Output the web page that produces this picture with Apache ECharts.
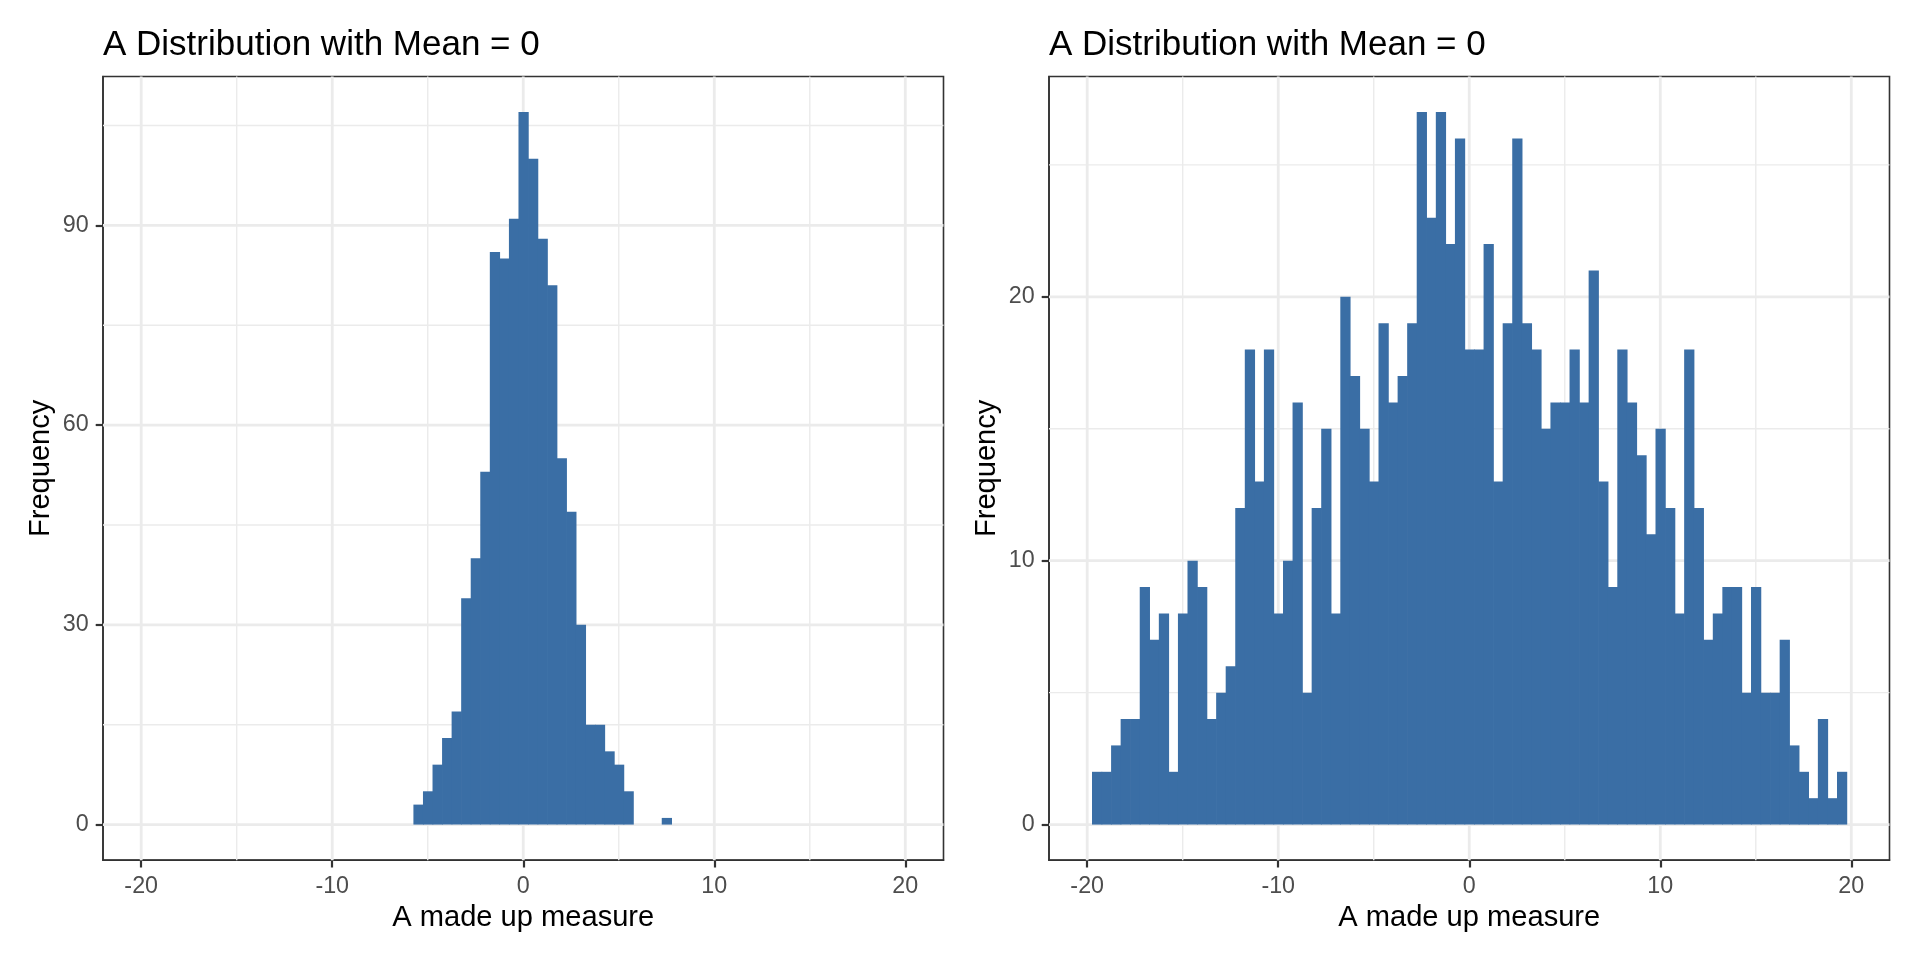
<!DOCTYPE html>
<html>
<head>
<meta charset="utf-8">
<script src="https://cdn.jsdelivr.net/npm/echarts@6/dist/echarts.min.js"></script>
<style>
html,body{margin:0;padding:0;background:#ffffff;}
#chart{width:1920px;height:960px;}
</style>
</head>
<body>
<div id="chart"></div>
<script>
// ---- text ----
const titleText = 'A Distribution with Mean = 0';
const xAxisTitle = 'A made up measure';
const yAxisTitle = 'Frequency';

// ---- ticks ----
const xTicks = [-20, -10, 0, 10, 20];
const xMinorTicks = [-15, -5, 5, 15];
const leftYTicks = [0, 30, 60, 90];
const leftYMinorTicks = [15, 45, 75, 105];
const rightYTicks = [0, 10, 20];
const rightYMinorTicks = [5, 15, 25];

// ---- histogram data (bin centres, counts) ----
const binWidth = 0.5;
const leftBins = [-5.5, -5, -4.5, -4, -3.5, -3, -2.5, -2, -1.5, -1, -0.5, 0, 0.5, 1, 1.5, 2, 2.5, 3, 3.5, 4, 4.5, 5, 5.5, 6, 6.5, 7, 7.5];
const leftCounts = [3, 5, 9, 13, 17, 34, 40, 53, 86, 85, 91, 107, 100, 88, 81, 55, 47, 30, 15, 15, 11, 9, 5, 0, 0, 0, 1];

const rightBins = [-19.5, -19, -18.5, -18, -17.5, -17, -16.5, -16, -15.5, -15, -14.5, -14, -13.5, -13, -12.5, -12, -11.5, -11, -10.5, -10,
  -9.5, -9, -8.5, -8, -7.5, -7, -6.5, -6, -5.5, -5, -4.5, -4, -3.5, -3, -2.5, -2, -1.5, -1, -0.5,
  0, 0.5, 1, 1.5, 2, 2.5, 3, 3.5, 4, 4.5, 5, 5.5, 6, 6.5, 7, 7.5, 8, 8.5, 9, 9.5,
  10, 10.5, 11, 11.5, 12, 12.5, 13, 13.5, 14, 14.5, 15, 15.5, 16, 16.5, 17, 17.5, 18, 18.5, 19, 19.5];
const rightCounts = [2, 2, 3, 4, 4, 9, 7, 8, 2, 8, 10, 9, 4, 5, 6, 12, 18, 13, 18, 8,
  10, 16, 5, 12, 15, 8, 20, 17, 15, 13, 19, 16, 17, 19, 27, 23, 27, 22, 26,
  18, 18, 22, 13, 19, 26, 19, 18, 15, 16, 16, 18, 16, 21, 13, 9, 18, 16, 14, 11,
  15, 12, 8, 18, 12, 7, 8, 9, 9, 5, 9, 5, 5, 7, 3, 2, 1, 4, 1, 2];

// ---- styles ----
const FONT = 'Liberation Sans, Arial, Helvetica, sans-serif';
const barColor = '#3A6EA5';
const gridColor = '#EBEBEB';
const majorW = 2.8, minorW = 1.4;
const darkGrey = '#333333';
const borderW = 1.6, tickW = 2.2;

const xRange = [-22, 22];
const leftYRange = [-5.35, 112.35];
const rightYRange = [-1.35, 28.35];

const panels = [
  {left: 103, bins: leftBins, counts: leftCounts, yRange: leftYRange, yTicks: leftYTicks, yMinor: leftYMinorTicks},
  {left: 1049, bins: rightBins, counts: rightCounts, yRange: rightYRange, yTicks: rightYTicks, yMinor: rightYMinorTicks}
];
const panelTop = 76.5, panelW = 840.5, panelH = 783.7;

function barRender(params, api) {
  const x = api.value(0), y = api.value(1);
  if (!y) return null;
  const p0 = api.coord([x - binWidth / 2, y]);
  const p1 = api.coord([x + binWidth / 2, 0]);
  // slight overlap to the right so adjacent bins show no seam
  return {
    type: 'rect',
    shape: {x: p0[0], y: p0[1], width: p1[0] - p0[0] + 0.7, height: p1[1] - p0[1]},
    style: {fill: barColor}
  };
}

function gridLineSeries(idx, values, vertical, width, yRange) {
  return {
    type: 'custom',
    xAxisIndex: idx, yAxisIndex: idx,
    z: 1, silent: true, animation: false,
    data: values.map(v => vertical ? [v, 0] : [0, v]),
    renderItem: function (params, api) {
      const v = vertical ? api.value(0) : api.value(1);
      const a = vertical ? api.coord([v, yRange[0]]) : api.coord([xRange[0], v]);
      const b = vertical ? api.coord([v, yRange[1]]) : api.coord([xRange[1], v]);
      return {
        type: 'line',
        shape: {x1: a[0], y1: a[1], x2: b[0], y2: b[1]},
        style: {stroke: gridColor, lineWidth: width}
      };
    }
  };
}

const option = {
  backgroundColor: '#ffffff',
  animation: false,
  title: panels.map(p => ({
    text: titleText,
    left: p.left, top: 28, padding: 0,
    textStyle: {fontFamily: FONT, fontSize: 35, fontWeight: 'normal', color: '#000000', lineHeight: 35}
  })),
  grid: panels.map(p => ({
    left: p.left, top: panelTop, width: panelW, height: panelH,
    show: true, borderColor: darkGrey, borderWidth: borderW, backgroundColor: 'transparent',
    containLabel: false
  })),
  xAxis: panels.map((p, i) => ({
    type: 'value', gridIndex: i, min: xRange[0], max: xRange[1], position: 'bottom',
    splitLine: {show: false},
    axisLine: {show: true, onZero: false, lineStyle: {color: darkGrey, width: borderW}},
    axisTick: {show: true, length: 7.3, customValues: xTicks, lineStyle: {color: darkGrey, width: tickW}},
    axisLabel: {show: true, customValues: xTicks, margin: 15, fontFamily: FONT, fontSize: 23.3, color: '#4D4D4D', lineHeight: 23.3},
    name: xAxisTitle, nameLocation: 'middle', nameGap: 42,
    nameTextStyle: {fontFamily: FONT, fontSize: 29.1, color: '#000000', lineHeight: 29.1}
  })),
  yAxis: panels.map((p, i) => ({
    type: 'value', gridIndex: i, min: p.yRange[0], max: p.yRange[1], position: 'left',
    splitLine: {show: false},
    axisLine: {show: true, onZero: false, lineStyle: {color: darkGrey, width: borderW}},
    axisTick: {show: true, length: 7.3, customValues: p.yTicks, lineStyle: {color: darkGrey, width: tickW}},
    axisLabel: {show: true, customValues: p.yTicks, margin: 14.3, fontFamily: FONT, fontSize: 23.3, color: '#4D4D4D'},
    name: yAxisTitle, nameLocation: 'middle', nameGap: 47, nameRotate: 90,
    nameTextStyle: {fontFamily: FONT, fontSize: 29.1, color: '#000000', lineHeight: 29.1}
  })),
  series: []
};

panels.forEach((p, i) => {
  option.series.push(gridLineSeries(i, xMinorTicks, true, minorW, p.yRange));
  option.series.push(gridLineSeries(i, p.yMinor, false, minorW, p.yRange));
  option.series.push(gridLineSeries(i, xTicks, true, majorW, p.yRange));
  option.series.push(gridLineSeries(i, p.yTicks, false, majorW, p.yRange));
  option.series.push({
    type: 'custom', xAxisIndex: i, yAxisIndex: i, z: 3, silent: true,
    data: p.bins.map((b, k) => [b, p.counts[k]]),
    renderItem: barRender
  });
});

const chart = echarts.init(document.getElementById('chart'), null, {renderer: 'canvas'});
chart.setOption(option);
</script>
</body>
</html>
